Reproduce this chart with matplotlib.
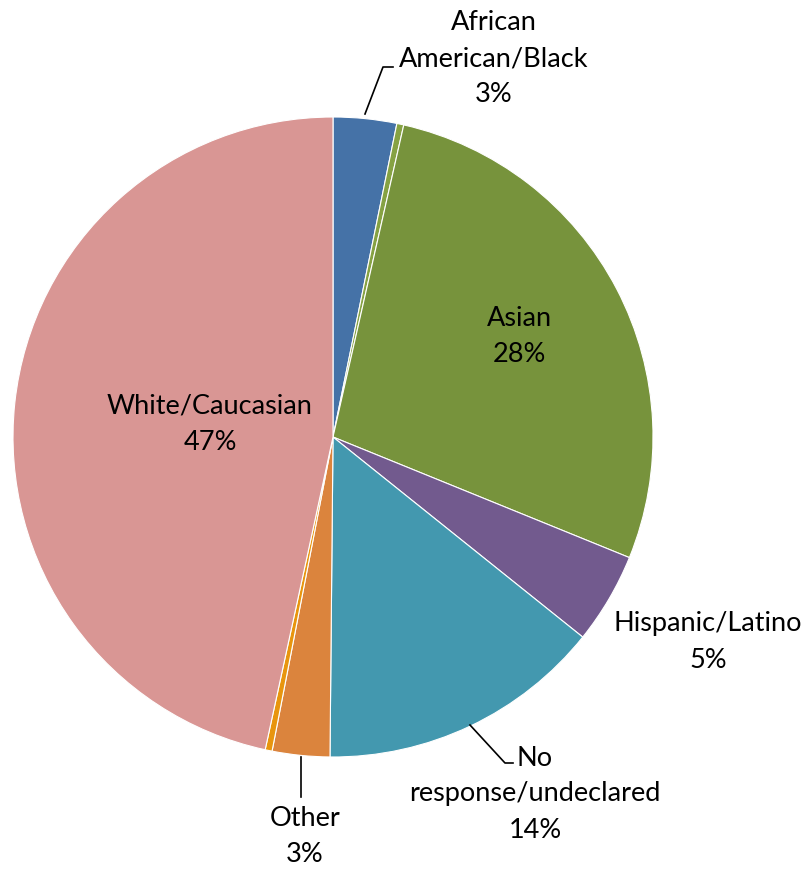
import numpy as np
import matplotlib.pyplot as plt

plt.rcParams['font.family'] = ['Lato', 'DejaVu Sans']

# shares (percent), clockwise from 12 o'clock
groups = ['African\nAmerican/Black', '', 'Asian', 'Hispanic/Latino',
          'No\nresponse/undeclared', 'Other', '', 'White/Caucasian']
shares = [3.2, 0.35, 27.6, 4.6, 14.4, 2.9, 0.35, 46.6]
colors = ['#4572A7', '#86A243', '#77933C', '#725A8E',
          '#4398AF', '#DB843D', '#E8950E', '#D99694']

W, H = 809, 869
cx, cy, R = 333, 437, 320
fig = plt.figure(figsize=(W / 100, H / 100), dpi=100)
ax = fig.add_axes([(cx - R) / W, (H - cy - R) / H, 2 * R / W, 2 * R / H])
ax.pie(shares, colors=colors, startangle=90, counterclock=False, radius=1,
       wedgeprops=dict(edgecolor='white', linewidth=0.8))
ax.set_xlim(-1, 1)
ax.set_ylim(-1, 1)
ax.axis('off')


def px(x, y):
    return ((x - cx) / R, (cy - y) / R)


def lab(i):
    return f'{groups[i]}\n{round(shares[i])}%'


fs = 19.5
ls = 1.55
kw = dict(ha='center', va='center', fontsize=fs, linespacing=ls, color='black',
          clip_on=False)

# inside labels
ax.text(*px(519, 336), lab(2), **kw)
ax.text(*px(210, 424), lab(7), **kw)

# outside labels
ax.text(*px(494, 59), lab(0), **kw)
ax.text(*px(708, 642), lab(3), **kw)
ax.text(*px(535, 794), lab(4), **kw)
ax.text(*px(305, 836), lab(5), **kw)

# leader lines
def leader(pts):
    xs, ys = zip(*[px(a, b) for a, b in pts])
    ax.plot(xs, ys, color='black', lw=1.2, clip_on=False)

leader([(365, 114), (383, 67), (393, 67)])
leader([(470, 725), (505, 763), (513, 763)])
leader([(301, 757), (301, 797)])

fig.savefig('out.png', dpi=100)
